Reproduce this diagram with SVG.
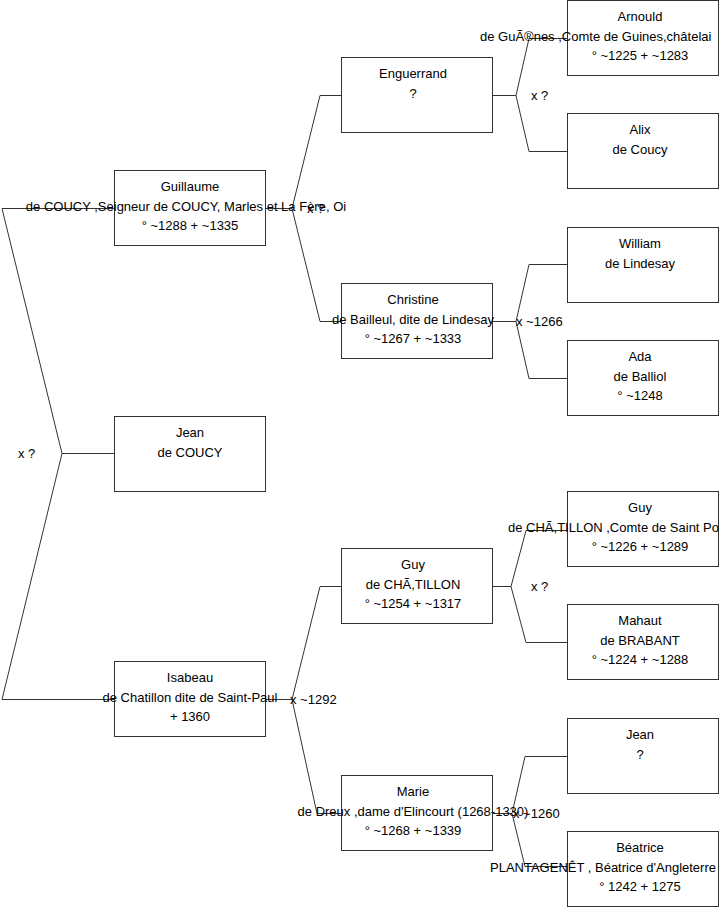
<svg xmlns="http://www.w3.org/2000/svg" width="719" height="908" viewBox="0 0 719 908">
<style>
  .box rect { fill: #ffffff; stroke: #333333; stroke-width: 1; }
  .conn { fill: none; stroke: #333333; stroke-width: 1; }
  text { font-family: "Liberation Sans", Arial, sans-serif; font-size: 13px; fill: #000000; }
  .c { text-anchor: middle; }
  .s { text-anchor: start; }
</style>
<rect x="0" y="0" width="719" height="908" fill="#ffffff"/>
<g id="connectors" class="conn">
  <polyline points="114,208.5 2,208.5 62,453.5 2,699.5 114,699.5"/>
  <line x1="62" y1="453.5" x2="114" y2="453.5"/>
  <line x1="265" y1="208.5" x2="292" y2="208.5"/>
  <polyline points="341,95.5 320,95.5 292,208.5 320,321.5 341,321.5"/>
  <line x1="265" y1="699.5" x2="292" y2="699.5"/>
  <polyline points="341,586.5 320,586.5 292,699.5 317,813.5 341,813.5"/>
  <line x1="492" y1="95.5" x2="516" y2="95.5"/>
  <polyline points="567,38.5 529,38.5 516,95.5 529,151.5 567,151.5"/>
  <line x1="492" y1="321.5" x2="516" y2="321.5"/>
  <polyline points="567,264.5 529,264.5 516,321.5 529,378.5 567,378.5"/>
  <line x1="492" y1="586.5" x2="511" y2="586.5"/>
  <polyline points="567,530.5 526,530.5 511,586.5 526,642.5 567,642.5"/>
  <line x1="492" y1="813.5" x2="512" y2="813.5"/>
  <polyline points="567,756.5 525,756.5 512,813.5 525,866.5 567,866.5"/>
</g>
<g id="labels">
  <text class="s" x="18" y="458">x ?</text>
  <text class="s" x="307" y="213">x ?</text>
  <text class="s" x="290" y="704">x ~1292</text>
  <text class="s" x="531" y="100">x ?</text>
  <text class="s" x="516" y="326">x ~1266</text>
  <text class="s" x="531" y="591">x ?</text>
  <text class="s" x="513" y="818">x ~1260</text>
</g>
<g id="guillaume" class="box">
  <rect x="114.5" y="170.5" width="151" height="75"/>
  <text class="c" x="190" y="191">Guillaume</text>
  <text class="c" x="186" y="211">de COUCY ,Seigneur de COUCY, Marles et La Fère, Oi</text>
  <text class="c" x="190" y="230">° ~1288 + ~1335</text>
</g>
<g id="jean-coucy" class="box">
  <rect x="114.5" y="416.5" width="151" height="75"/>
  <text class="c" x="190" y="437">Jean</text>
  <text class="c" x="190" y="457">de COUCY</text>
</g>
<g id="isabeau" class="box">
  <rect x="114.5" y="661.5" width="151" height="75"/>
  <text class="c" x="190" y="682">Isabeau</text>
  <text class="c" x="190" y="702">de Chatillon dite de Saint-Paul</text>
  <text class="c" x="190" y="721">+ 1360</text>
</g>
<g id="enguerrand" class="box">
  <rect x="341.5" y="57.5" width="151" height="75"/>
  <text class="c" x="413" y="78">Enguerrand</text>
  <text class="c" x="413" y="98">?</text>
</g>
<g id="christine" class="box">
  <rect x="341.5" y="283.5" width="151" height="75"/>
  <text class="c" x="413" y="304">Christine</text>
  <text class="c" x="413" y="324">de Bailleul, dite de Lindesay</text>
  <text class="c" x="413" y="343">° ~1267 + ~1333</text>
</g>
<g id="guy-1254" class="box">
  <rect x="341.5" y="548.5" width="151" height="75"/>
  <text class="c" x="413" y="569">Guy</text>
  <text class="c" x="413" y="589">de CHÃ,TILLON</text>
  <text class="c" x="413" y="608">° ~1254 + ~1317</text>
</g>
<g id="marie" class="box">
  <rect x="341.5" y="775.5" width="151" height="75"/>
  <text class="c" x="413" y="796">Marie</text>
  <text class="c" x="413" y="816">de Dreux ,dame d'Elincourt (1268-1330)</text>
  <text class="c" x="413" y="835">° ~1268 + ~1339</text>
</g>
<g id="arnould" class="box">
  <rect x="567.5" y="0.5" width="151" height="75"/>
  <text class="c" x="640" y="21">Arnould</text>
  <text class="s" x="480" y="41">de GuÃ®nes ,Comte de Guines,châtelai</text>
  <text class="c" x="640" y="60">° ~1225 + ~1283</text>
</g>
<g id="alix" class="box">
  <rect x="567.5" y="113.5" width="151" height="75"/>
  <text class="c" x="640" y="134">Alix</text>
  <text class="c" x="640" y="154">de Coucy</text>
</g>
<g id="william" class="box">
  <rect x="567.5" y="227.5" width="151" height="75"/>
  <text class="c" x="640" y="248">William</text>
  <text class="c" x="640" y="268">de Lindesay</text>
</g>
<g id="ada" class="box">
  <rect x="567.5" y="340.5" width="151" height="75"/>
  <text class="c" x="640" y="361">Ada</text>
  <text class="c" x="640" y="381">de Balliol</text>
  <text class="c" x="640" y="400">° ~1248</text>
</g>
<g id="guy-1226" class="box">
  <rect x="567.5" y="491.5" width="151" height="75"/>
  <text class="c" x="640" y="512">Guy</text>
  <text class="s" x="508" y="532">de CHÃ,TILLON ,Comte de Saint Po</text>
  <text class="c" x="640" y="551">° ~1226 + ~1289</text>
</g>
<g id="mahaut" class="box">
  <rect x="567.5" y="604.5" width="151" height="75"/>
  <text class="c" x="640" y="625">Mahaut</text>
  <text class="c" x="640" y="645">de BRABANT</text>
  <text class="c" x="640" y="664">° ~1224 + ~1288</text>
</g>
<g id="jean-q" class="box">
  <rect x="567.5" y="718.5" width="151" height="75"/>
  <text class="c" x="640" y="739">Jean</text>
  <text class="c" x="640" y="759">?</text>
</g>
<g id="beatrice" class="box">
  <rect x="567.5" y="831.5" width="151" height="75"/>
  <text class="c" x="640" y="852">Béatrice</text>
  <text class="s" x="490" y="872">PLANTAGENÊT , Béatrice d'Angleterre</text>
  <text class="c" x="640" y="891">° 1242 + 1275</text>
</g>
</svg>
